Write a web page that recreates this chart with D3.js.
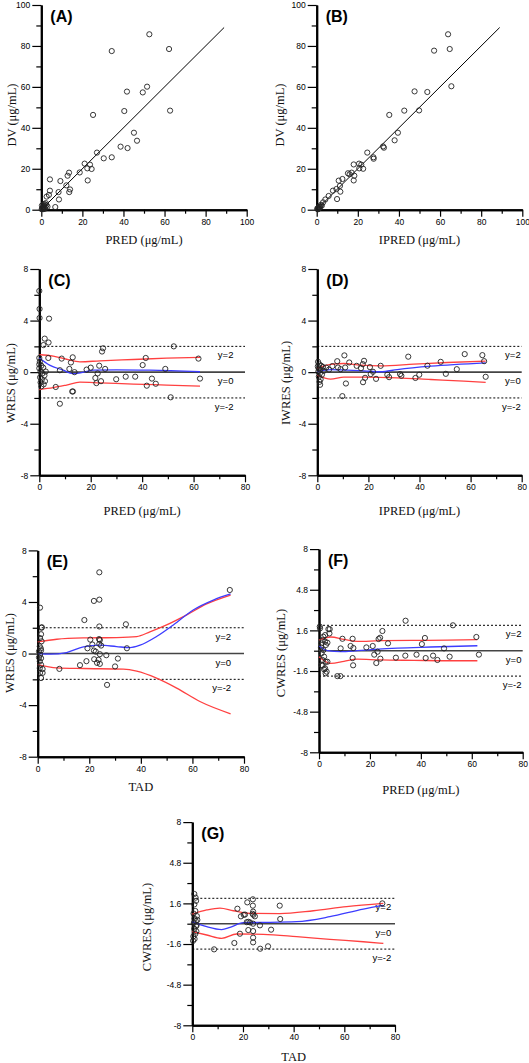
<!DOCTYPE html>
<html><head><meta charset="utf-8">
<script src="https://cdn.jsdelivr.net/npm/d3@7"></script>
<style>
html,body{margin:0;padding:0;background:#fff;}
svg{display:block;}
.tick text{font-family:"Liberation Sans",Arial,sans-serif;font-size:8.5px;fill:#000;}
</style></head>
<body>
<svg id="c" width="529" height="1063"></svg>
<script>
// ---------------- DATA ----------------
// (A) PRED vs DV
const ptsA = [[34.3,77.5],[52.6,85.7],[62.2,78.5],[62.7,48.4],[51.5,60.1],[49.4,57.3],[41.7,57.7],[40.4,48.2],[25.2,46.3],[45.1,37.6],[46.6,33.7],[38.6,30.8],[42.0,30.1],[34.3,25.6],[30.4,25.1],[27.1,27.9],[21.1,22.5],[23.7,22.0],[22.4,20.2],[24.5,19.9],[18.7,18.2],[13.5,18.1],[12.8,16.6],[22.6,14.3],[4.2,14.8],[9.3,14.0],[12.2,11.9],[13.6,8.6],[14.0,9.9],[4.2,9.3],[8.4,8.6],[3.7,7.2],[2.6,6.4],[8.6,5.0],[6.8,1.3],[1.5,2.8],[0.5,0.5],[0.8,1.2],[1.0,0.3],[1.2,1.8],[1.5,0.8],[2.0,1.5],[0.3,2.0],[2.5,2.2],[1.8,0.5],[0.6,0.9],[2.2,3.2],[1.0,2.5],[3.0,1.5],[0.2,0.2]];
// (B) IPRED vs DV
const ptsB = [[63.9,85.7],[64.7,78.5],[57.1,77.7],[65.5,60.3],[47.6,57.8],[53.8,57.5],[42.6,48.4],[49.8,48.5],[35.3,46.3],[39.5,37.6],[37.9,33.9],[32.3,30.9],[32.7,30.3],[24.6,27.9],[27.6,25.6],[27.7,24.9],[20.6,22.5],[18.0,22.1],[21.7,22.0],[20.7,20.2],[22.6,20.0],[17.0,18.1],[16.0,17.3],[15.2,17.8],[18.3,16.6],[18.0,14.3],[12.5,15.0],[10.7,14.2],[11.3,11.6],[11.5,8.8],[9.6,10.1],[7.9,9.3],[9.9,5.2],[5.8,6.7],[4.2,5.0],[3.1,3.6],[2.1,2.4],[1.1,1.5],[0.4,0.3],[0.8,0.9],[1.5,1.2],[0.3,0.6],[2.5,2.0],[1.8,1.6],[0.6,0.2],[1.2,0.7]];
// (C) PRED vs WRES
const ptsC = [[0,6.3],[0.1,4.9],[0.1,4.2],[3.8,4.15],[2.1,2.6],[1.6,2.1],[3.6,2.3],[24.4,1.6],[24.8,1.85],[52.3,2.0],[0,1.1],[3.5,1.1],[8.7,1.05],[13.0,1.15],[41.4,1.1],[61.9,1.05],[40.2,0.55],[23.3,0.5],[12.3,0.75],[11.7,0.25],[8.0,0.15],[18.4,0.2],[20.0,0.35],[25.6,0.25],[49.0,0.25],[13.7,0],[22.7,-0.1],[21.8,-0.45],[24.0,-0.7],[29.9,-0.55],[33.6,-0.35],[37.3,-0.35],[43.8,-0.5],[45.3,-0.9],[41.8,-1.05],[22.2,-0.85],[62.5,-0.5],[6.4,-1.15],[12.8,-1.5],[13.1,-1.5],[51.1,-1.95],[8.0,-2.45],[0.2,0.8],[0.8,0.5],[1.5,0.35],[0,0.3],[0.5,0.05],[1.2,-0.1],[2.0,-0.25],[0.3,-0.4],[1.0,-0.55],[2.2,-0.7],[0.5,-0.8],[1.7,-0.95],[0.8,-1.1],[2.5,0.05],[0,0.6]];
const bluC = [[0,1.1],[4,0.55],[9.3,0.15],[13,-0.12],[16,-0.05],[21,0.15],[30,0.18],[43,0.15],[62.5,0.03]];
const hiC  = [[0,1.35],[5.4,1.25],[10.6,1.0],[15.8,0.8],[23.6,0.88],[36.6,0.98],[49.5,1.08],[62.5,1.15]];
const loC  = [[0,-1.35],[5.4,-1.2],[10.6,-1.0],[15.8,-0.78],[23.6,-0.83],[36.6,-0.93],[49.5,-1.0],[62.5,-1.08]];
// (D) IPRED vs IWRES
const ptsD = [[9.8,-1.86],[10.6,1.3],[35.6,1.2],[57.7,1.4],[64.6,1.32],[65.3,0.85],[65.9,-0.36],[48.3,0.8],[43.1,0.5],[54.6,0.23],[50.3,-0.13],[39.9,-0.2],[38.4,-0.45],[32.9,-0.28],[32.4,-0.15],[28.1,-0.39],[27.4,-0.2],[24.8,0.49],[23.0,-0.52],[21.8,0.03],[20.9,-0.15],[20.6,0.39],[18.7,-0.44],[17.9,-0.78],[18.3,0.88],[17.8,0.62],[17.1,0.31],[15.4,0.49],[12.5,0.75],[11.2,-0.88],[10.9,0.36],[9.1,0.23],[8.1,0.36],[7.8,0.85],[5.9,0.47],[4.6,0.2],[3.5,0.36],[0.3,0.8],[0.8,0.6],[0.2,0.45],[1.5,0.5],[0.5,0.3],[1.2,0.2],[2.2,0.4],[0.4,0.05],[1.0,-0.1],[1.8,-0.2],[0.6,-0.35],[1.3,-0.55],[0.9,-0.75],[1.1,-0.98],[2.5,0.1]];
const bluD = [[0,0.03],[5.2,0.2],[11.7,0.15],[18.3,0.1],[24.8,0.03],[31.3,0.2],[44.4,0.46],[65.9,0.72]];
const hiD  = [[0,0.28],[5.2,0.6],[10.4,0.67],[16.9,0.54],[24.8,0.49],[37.8,0.62],[50.9,0.75],[65.9,0.85]];
const loD  = [[0,-0.23],[5.2,-0.54],[10.4,-0.39],[18.3,-0.39],[31.3,-0.44],[44.4,-0.57],[57.4,-0.7],[65.9,-0.8]];
// (E) TAD vs WRES
const ptsE = [[23.9,6.3],[21.8,4.08],[23.9,4.18],[0.9,3.56],[18.1,2.6],[23.9,2.1],[34.2,2.27],[1.6,2.04],[74.5,4.93],[20.4,1.08],[23.8,1.12],[24.1,1.05],[23.9,0.75],[21.2,0.7],[19.3,0.41],[21.8,0.23],[24.6,0.62],[34.6,0.41],[24.1,-0.05],[26.6,-0.13],[21.9,-0.44],[23.6,-0.49],[24.1,-0.8],[23.0,-0.72],[18.9,-0.59],[16.4,-0.9],[31.1,-0.39],[30.0,-1.0],[8.4,-1.19],[26.9,-2.43],[22.5,0.15],[1.5,2.0],[1.3,1.5],[0.9,1.2],[1.5,0.95],[0.8,0.56],[1.2,0.4],[0.5,0.17],[0.9,-0.1],[1.3,-0.36],[0.8,-0.6],[1.3,-0.87],[0.8,-1.13],[1.9,-1.2],[0.9,-1.5],[1.9,-1.5],[1.3,-1.9],[1.3,0.25],[0.5,-0.3]];
const bluE = [[0,0],[4.8,-0.05],[11.2,0.08],[17.7,0.52],[24.2,0.65],[30.6,0.54],[35.8,0.46],[39.7,0.65],[46.1,1.32],[52.6,2.22],[60.3,3.38],[68.1,4.15],[74.8,4.62]];
const hiE  = [[0,0.9],[7.4,1.11],[17.7,1.21],[30.6,1.24],[38.4,1.32],[43.5,1.68],[50,2.22],[57.8,3.0],[65.5,3.85],[74.8,4.54]];
const loE  = [[0,-0.85],[7.4,-1.11],[17.7,-1.16],[33.2,-1.21],[38.4,-1.37],[46.1,-1.91],[53.9,-2.68],[62.9,-3.72],[74.8,-4.67]];
// (F) PRED vs CWRES
const ptsF = [[34.0,2.36],[52.6,2.0],[61.8,1.08],[62.8,-0.31],[0.3,1.9],[4.2,1.7],[24.9,1.55],[4.1,1.36],[13.2,0.94],[9.2,0.94],[24.0,1.02],[23.4,0.92],[27.1,0.58],[41.6,1.0],[40.4,0.52],[21.1,0.37],[18.6,0.26],[12.4,0.37],[8.5,0.18],[13.5,0.21],[49.1,0.18],[3.3,0.63],[38.3,-0.31],[33.9,-0.39],[30.2,-0.55],[41.9,-0.58],[44.8,-0.39],[46.5,-0.73],[51.3,-0.47],[21.7,-0.31],[23.0,-0.08],[24.1,-0.63],[22.5,-0.97],[13.2,-0.58],[13.4,-1.15],[3.3,-0.87],[7.2,-2.0],[8.4,-2.0],[2.6,-1.78],[2.0,-1.47],[1.4,-1.18],[3.7,1.7],[2.4,1.23],[1.7,1.1],[1.4,0.84],[2.4,0.71],[1.0,0.58],[2.7,0.45],[0.8,0.26],[1.7,0.05],[1.0,-0.21],[2.0,-0.47],[1.4,-0.73],[2.6,-0.87],[1.0,-1.13],[2.4,-1.39],[3.0,-1.65],[0.4,1.76]];
const bluF = [[0,0.39],[3.3,0],[8.5,-0.08],[15,0],[21.6,0.1],[30.8,0.21],[43.8,0.29],[62.2,0.39]];
const hiF  = [[0,0.84],[4.6,1.08],[9.8,0.89],[15,0.73],[24.2,0.79],[37.3,0.81],[50.4,0.84],[62.2,0.87]];
const loF  = [[0,-0.47],[4.6,-1.0],[9.8,-0.84],[15,-0.66],[24.2,-0.73],[37.3,-0.76],[50.4,-0.79],[62.2,-0.79]];
// (G) TAD vs CWRES
const ptsG = [[0.8,2.34],[1.3,2.05],[1.5,1.8],[0.8,1.52],[34.5,1.42],[23.9,1.92],[21.7,1.68],[23.9,1.42],[17.8,1.18],[20.8,0.72],[20.3,0.7],[19.2,0.58],[24.0,0.95],[24.1,0.7],[24.7,0.58],[23.8,0.78],[34.7,0.37],[22.1,0.15],[21.5,0.12],[22.8,0.1],[26.7,-0.13],[24.0,0],[31.1,-0.47],[22.1,-0.5],[24.0,-0.58],[18.8,-0.79],[24.0,-1.1],[24.0,-1.47],[16.6,-1.52],[29.9,-1.78],[26.8,-1.97],[8.6,-2.02],[75.0,1.6],[1.2,1.0],[0.5,0.8],[1.8,0.6],[0.9,0.4],[1.4,0.2],[0.6,0.05],[1.5,-0.2],[0.8,-0.4],[1.6,-0.6],[1.2,-0.8],[0.4,-1.0],[0.9,-1.2],[0.3,-1.35],[1.7,-0.1],[2.0,0.3]];
const bluG = [[0,0.16],[5.7,-0.24],[11.6,-0.47],[14.9,-0.29],[20.1,0.08],[28,0.1],[41.2,0.16],[54.3,0.55],[67.5,1.15],[75.4,1.44]];
const hiG  = [[0,0.76],[5.7,1.08],[10.9,1.23],[16.2,1.02],[22.8,0.81],[34.6,0.79],[47.8,1.02],[60.9,1.34],[75.4,1.6]];
const loG  = [[0,-0.63],[5.7,-0.89],[11.6,-1.15],[17.5,-0.81],[28,-0.84],[41.2,-1.02],[54.3,-1.23],[67.5,-1.42],[75.4,-1.55]];

const identityLine = [[0,0],[89,89]];
const ticks100 = [0,20,40,60,80,100], minor100 = [10,30,50,70,90];
const ticks80 = [0,20,40,60,80], minor80 = [10,30,50,70];
const ticksRes = [-8,-4,0,4,8], minorRes = [-6,-2,2,6];
const ticksCw = [-8,-4.8,-1.6,1.6,4.8,8], minorCw = [-6.4,-3.2,0,3.2,6.4];
const refLines = [2,0,-2];
const refLabels = ["y=2","y=0","y=-2"];

// ---------------- DRAW ----------------
const svg = d3.select("#c");
const serif = '"Liberation Serif","Times New Roman",serif';
const sans = '"Liberation Sans",Arial,sans-serif';

function panel(o){
  const g = svg.append("g");
  const x = d3.scaleLinear().domain(o.xd).range(o.xr);
  const y = d3.scaleLinear().domain(o.yd).range(o.yr);
  const fmt = d => String(d);
  g.append("g").attr("transform",`translate(0,${o.yr[0]})`)
    .call(d3.axisBottom(x).tickValues(o.xm).tickSize(4).tickSizeOuter(0).tickFormat(""));
  g.append("g").attr("transform",`translate(${o.xr[0]},0)`)
    .call(d3.axisLeft(y).tickValues(o.ym).tickSize(5).tickSizeOuter(0).tickFormat(""));
  g.append("g").attr("transform",`translate(0,${o.yr[0]})`)
    .call(d3.axisBottom(x).tickValues(o.xt).tickSize(7).tickSizeOuter(0).tickFormat(fmt).tickPadding(2));
  g.append("g").attr("transform",`translate(${o.xr[0]},0)`)
    .call(d3.axisLeft(y).tickValues(o.yt).tickSize(9).tickSizeOuter(0).tickFormat(fmt).tickPadding(2));
  g.selectAll(".domain").attr("stroke","#000").attr("stroke-width",2);
  g.selectAll(".tick line").attr("stroke","#000").attr("stroke-width",1.2);

  if(o.ref){
    refLines.forEach((v,i)=>{
      g.append("line").attr("x1",x(o.xd[0])).attr("x2",x(o.xd[1]))
        .attr("y1",y(v)).attr("y2",y(v))
        .attr("stroke", v===0?"#444":"#000")
        .attr("stroke-width", v===0?1.6:1)
        .attr("stroke-dasharray", v===0?null:"2,2");
      g.append("text").attr("x",x(o.labX)).attr("y",y(v)+12)
        .attr("text-anchor","end").attr("font-family",sans).attr("font-size","9.5px")
        .text(refLabels[i]);
    });
  }
  if(o.identity){
    g.append("path").datum(identityLine)
      .attr("d",d3.line().x(d=>x(d[0])).y(d=>y(d[1])))
      .attr("stroke","#000").attr("stroke-width",1).attr("fill","none");
  }
  const line = d3.line().x(d=>x(d[0])).y(d=>y(d[1])).curve(d3.curveMonotoneX);
  if(o.lo){
    g.append("path").datum(o.lo).attr("d",line).attr("fill","none").attr("stroke","#ff4040").attr("stroke-width",1.3);
    g.append("path").datum(o.hi).attr("d",line).attr("fill","none").attr("stroke","#ff4040").attr("stroke-width",1.3);
    g.append("path").datum(o.blu).attr("d",line).attr("fill","none").attr("stroke","#3c3cff").attr("stroke-width",1.3);
  }
  g.selectAll("circle.p").data(o.pts).enter().append("circle")
    .attr("cx",d=>x(d[0])).attr("cy",d=>y(d[1])).attr("r",2.6)
    .attr("fill","none").attr("stroke","#222").attr("stroke-width",0.9);

  g.append("text").attr("x",o.xr[0]+9).attr("y",o.yr[1]+17)
    .attr("font-family",sans).attr("font-weight","bold").attr("font-size","16px").text(o.tag);
  g.append("text").attr("x",(o.xr[0]+o.xr[1])/2).attr("y",o.xlabY)
    .attr("text-anchor","middle").attr("font-family",serif).attr("font-weight","normal")
    .attr("font-size","12.5px").attr("fill","#111").text(o.xlab);
  g.append("text").attr("transform",`translate(${o.ylabX},${o.ylabC}) rotate(-90)`)
    .attr("text-anchor","middle").attr("dominant-baseline","central")
    .attr("font-family",serif).attr("font-weight","normal").attr("font-size","12.5px").attr("fill","#111").text(o.ylab);
}

panel({tag:"(A)",pts:ptsA,identity:true,xd:[0,100],yd:[0,100],xr:[41.3,246.7],yr:[209.7,5],
  xt:ticks100,xm:minor100,yt:ticks100,ym:minor100,xlab:"PRED (μg/mL)",xlabY:244,ylab:"DV (μg/mL)",ylabX:12,ylabC:115});
panel({tag:"(B)",pts:ptsB,identity:true,xd:[0,100],yd:[0,100],xr:[316.7,522.3],yr:[209.7,5],
  xt:ticks100,xm:minor100,yt:ticks100,ym:minor100,xlab:"IPRED (μg/mL)",xlabY:244,ylab:"DV (μg/mL)",ylabX:280,ylabC:115});
panel({tag:"(C)",pts:ptsC,ref:true,labX:75.5,blu:bluC,hi:hiC,lo:loC,xd:[0,80],yd:[-8,8],xr:[39.3,245],yr:[475.3,269],
  xt:ticks80,xm:minor80,yt:ticksRes,ym:minorRes,xlab:"PRED (μg/mL)",xlabY:515,ylab:"WRES (μg/mL)",ylabX:11,ylabC:383});
panel({tag:"(D)",pts:ptsD,ref:true,labX:79.6,blu:bluD,hi:hiD,lo:loD,xd:[0,80],yd:[-8,8],xr:[317.3,521.7],yr:[475.3,269],
  xt:ticks80,xm:minor80,yt:ticksRes,ym:minorRes,xlab:"IPRED (μg/mL)",xlabY:515,ylab:"IWRES (μg/mL)",ylabX:286,ylabC:383});
panel({tag:"(E)",pts:ptsE,ref:true,labX:75,blu:bluE,hi:hiE,lo:loE,xd:[0,80],yd:[-8,8],xr:[37.7,244],yr:[756.7,550.4],
  xt:ticks80,xm:minor80,yt:ticksRes,ym:minorRes,xlab:"TAD",xlabY:791,ylab:"WRES (μg/mL)",ylabX:10,ylabC:653});
panel({tag:"(F)",pts:ptsF,ref:true,labX:79.5,blu:bluF,hi:hiF,lo:loF,xd:[0,80],yd:[-8,8],xr:[319,522.7],yr:[752.3,549.1],
  xt:ticks80,xm:minor80,yt:ticksCw,ym:minorCw,xlab:"PRED (μg/mL)",xlabY:794,ylab:"CWRES (μg/mL)",ylabX:281,ylabC:653});
panel({tag:"(G)",pts:ptsG,ref:true,labX:78.5,blu:bluG,hi:hiG,lo:loG,xd:[0,80],yd:[-8,8],xr:[192.3,395],yr:[1025.3,822.1],
  xt:ticks80,xm:minor80,yt:ticksCw,ym:minorCw,xlab:"TAD",xlabY:1061,ylab:"CWRES (μg/mL)",ylabX:147,ylabC:927});
</script>
</body></html>
